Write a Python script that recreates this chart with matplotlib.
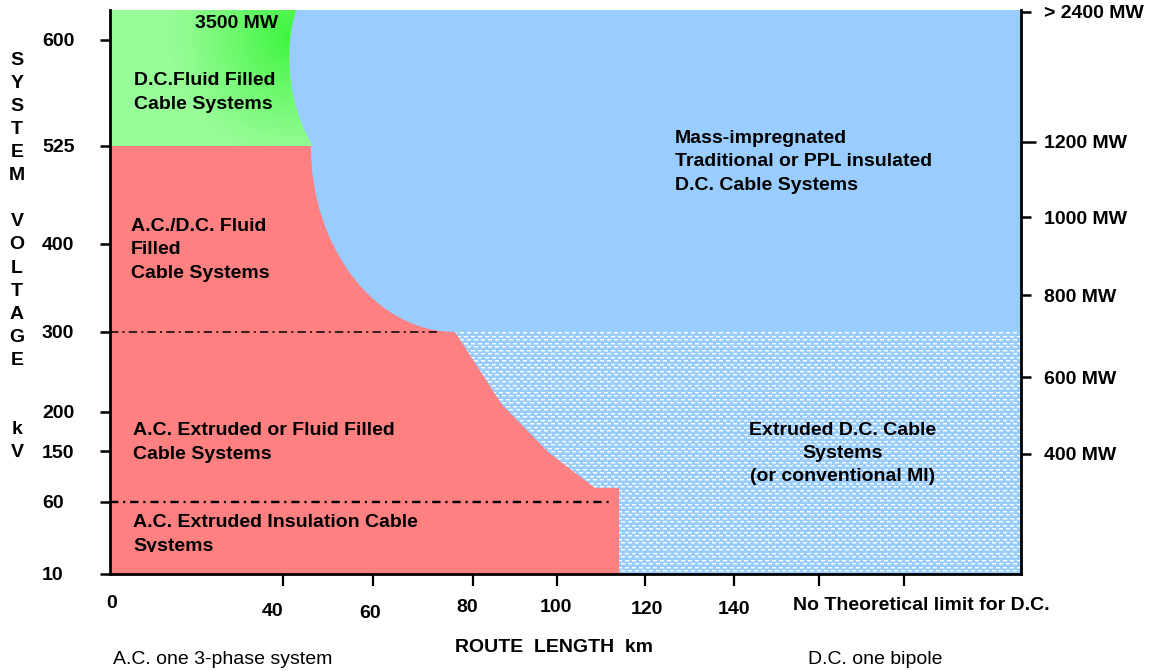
import numpy as np
import matplotlib
matplotlib.use("Agg")
import matplotlib.pyplot as plt
from matplotlib.patches import Rectangle, PathPatch
from matplotlib.path import Path
from matplotlib.transforms import Bbox

plt.rcParams['font.family'] = ['Liberation Sans', 'DejaVu Sans']
plt.rcParams['lines.scale_dashes'] = False

# ---------------- data ----------------
# printed (non-linear) axis scales: value -> relative position along the axis
km_knots = [0, 40, 60, 80, 100, 120, 140, 160, 180, 207]
km_pos = [0, 173, 263, 363, 447, 535, 624, 709, 794, 911]
kv_knots = [10, 60, 150, 200, 300, 400, 525, 600, 621]
kv_pos = [0, 72, 123, 162, 242, 330, 428, 534, 564]
mw_knots = [88, 400, 600, 800, 1000, 1200, 2400, 2420]
mw_pos = [0, 120, 197, 279, 357, 432, 562, 564]

x_ticks = [0, 40, 60, 80, 100, 120, 140, 160, 180]
x_tick_labels = ['0', '40', '60', '80', '100', '120', '140', '', '']
y_ticks = [10, 60, 150, 200, 300, 400, 525, 600]
y_tick_labels = ['10', '60', '150', '200', '300', '400', '525', '600']
mw_ticks = [400, 600, 800, 1000, 1200, 2400]
mw_tick_labels = ['400 MW', '600 MW', '800 MW', '1000 MW', '1200 MW', '> 2400 MW']

# region boundaries (route length km, system voltage kV)
# green / blue border above 525 kV: cubic curve (start, ctrl, ctrl, end)
green_edge_km = [46.6, 40.4, 40.4, 43.0]
green_edge_kv = [525, 557, 600, 621]
# red / blue border between 525 kV and 300 kV: cubic curve
red_arc_km = [46.2, 46.2, 60.5, 76.4]
red_arc_kv = [525, 395, 300, 300]
# red / extruded-D.C. border below 300 kV
red_edge_km = [86.9, 97.9, 108.6, 114.1, 114.1]
red_edge_kv = [209, 148, 85, 85, 10]
ac_dc_limit_kv = 300
ac_dc_limit_km = 72.8
ac_extr_limit_kv = 60
ac_extr_limit_km = 112
extruded_dc_top_kv = 300

# ---------------- styles ----------------
RED = '#FF8080'
BLUE = '#99CCFF'
W, H = 1156, 671
LS = 1.47

def fwd(knots, pos):
    return lambda v: np.interp(v, knots, pos)

def inv(knots, pos):
    return lambda p: np.interp(p, pos, knots)

fig = plt.figure(figsize=(W / 100, H / 100), dpi=100)
ax = fig.add_axes([110 / W, 97 / H, 911 / W, 564 / H])
ax.set_xscale('function', functions=(fwd(km_knots, km_pos), inv(km_knots, km_pos)))
ax.set_yscale('function', functions=(fwd(kv_knots, kv_pos), inv(kv_knots, kv_pos)))
ax.set_facecolor(BLUE)

# patterned (extruded D.C.) area
ny, nx = 564, 911
pat = np.zeros((ny, nx, 3), dtype=float)
base = np.array([153, 204, 255]) / 255
pat[:] = base
yy, xx = np.mgrid[0:ny, 0:nx]
rowA = (yy % 7 == 0) & ((xx % 7) < 4)
rowB = (yy % 7 == 4) & (((xx + 3) % 7) < 4)
rowA2 = (yy % 7 == 1) & ((xx % 7) < 4)
rowB2 = (yy % 7 == 5) & (((xx + 3) % 7) < 4)
pat[rowA2 | rowB2] = base * 0.55 + 0.45
pat[rowA | rowB] = 1.0
im = ax.imshow(pat, extent=(0, 1, 0, 1), transform=ax.transAxes,
               aspect='auto', interpolation='nearest', zorder=1)
clip_rect = Rectangle((km_knots[0], kv_knots[0]), km_knots[-1] - km_knots[0],
                      extruded_dc_top_kv - kv_knots[0], transform=ax.transData,
                      facecolor='none', edgecolor='none')
ax.add_patch(clip_rect)
im.set_clip_path(clip_rect)

# red region (A.C. systems)
red_verts = [(0, kv_knots[0]), (0, 525)] + list(zip(red_arc_km, red_arc_kv)) \
    + list(zip(red_edge_km, red_edge_kv)) + [(0, kv_knots[0])]
red_codes = [Path.MOVETO, Path.LINETO, Path.LINETO, Path.CURVE4, Path.CURVE4, Path.CURVE4] \
    + [Path.LINETO] * len(red_edge_km) + [Path.CLOSEPOLY]
red_patch = PathPatch(Path(red_verts, red_codes), facecolor=RED, edgecolor='none', zorder=2)
ax.add_patch(red_patch)

# green region (D.C. fluid filled) with gradient
green_verts = [(0, 525)] + list(zip(green_edge_km, green_edge_kv)) + [(0, 621), (0, 525)]
green_codes = [Path.MOVETO, Path.LINETO, Path.CURVE4, Path.CURVE4, Path.CURVE4,
               Path.LINETO, Path.CLOSEPOLY]
green_patch = PathPatch(Path(green_verts, green_codes), facecolor='#98FB98',
                        edgecolor='none', zorder=2)
ax.add_patch(green_patch)
light = np.array([152, 252, 152]) / 255
bright = np.array([60, 245, 60]) / 255
cx, cy = 182, 25  # centre of glow (axes pixels from top-left)
d = np.hypot(xx - cx, (yy - cy) * 1.0)
t = np.clip(1 - d / 125, 0, 1) ** 1.2
grad = light[None, None, :] * (1 - t[..., None]) + bright[None, None, :] * t[..., None]
gim = ax.imshow(grad, extent=(0, 1, 0, 1), transform=ax.transAxes,
                aspect='auto', interpolation='bilinear', zorder=2.5)
gim.set_clip_path(green_patch)

# dash-dot limit lines
ax.plot([0, ac_dc_limit_km], [ac_dc_limit_kv, ac_dc_limit_kv], color='black',
        lw=1.1, dashes=(6, 3, 1.5, 3), zorder=3)
ax.plot([0, ac_extr_limit_km], [ac_extr_limit_kv, ac_extr_limit_kv], color='black',
        lw=1.7, dashes=(6, 3.5, 1.5, 3.5), zorder=3)

ax.set_xlim(km_knots[0], km_knots[-1])
ax.set_ylim(kv_knots[0], kv_knots[-1])

# spines
for s in ['top', 'right']:
    ax.spines[s].set_visible(False)
for s in ['left', 'bottom']:
    ax.spines[s].set_linewidth(2.0)
    ax.spines[s].set_zorder(6)

# y ticks (left)
ax.set_yticks(y_ticks)
ax.set_yticklabels(y_tick_labels)
ax.tick_params(axis='y', direction='out', length=7.2, width=1.8, labelsize=14, pad=41.8)
for lab in ax.get_yticklabels():
    lab.set_ha('left')
    lab.set_fontweight('bold')
ax.yaxis.get_major_ticks()[0].tick1line.set_visible(False)
ax.yaxis.set_minor_locator(matplotlib.ticker.NullLocator())

# x ticks (bottom)
ax.set_xticks(x_ticks)
ax.set_xticklabels([''] * len(x_ticks))
ax.tick_params(axis='x', direction='out', length=8.6, width=1.6)
ax.xaxis.get_major_ticks()[0].tick1line.set_visible(False)
ax.xaxis.set_minor_locator(matplotlib.ticker.NullLocator())
x_label_nudge = [(2, -29), (-10, -38), (-3, -39), (-6, -34), (-1, -34), (2, -35), (0, -35), (0, 0), (0, 0)]
for v, lab, (dx, dy) in zip(x_ticks, x_tick_labels, x_label_nudge):
    if lab:
        ax.annotate(lab, xy=(v, 0), xycoords=ax.get_xaxis_transform(),
                    xytext=(dx, dy), textcoords='offset pixels',
                    ha='center', va='center', fontsize=14, fontweight='bold',
                    annotation_clip=False)

# right axis (MW)
tw = ax.twinx()
tw.set_yscale('function', functions=(fwd(mw_knots, mw_pos), inv(mw_knots, mw_pos)))
tw.set_ylim(mw_knots[0], mw_knots[-1])
tw.set_yticks(mw_ticks)
tw.set_yticklabels(mw_tick_labels)
tw.yaxis.set_minor_locator(matplotlib.ticker.NullLocator())
tw.tick_params(axis='y', direction='out', length=7.2, width=1.8, labelsize=14, pad=9.4)
for lab in tw.get_yticklabels():
    lab.set_fontweight('bold')
tw.yaxis.get_major_ticks()[4].tick2line.set_markersize(10.8)
for s in ['top', 'left', 'bottom']:
    tw.spines[s].set_visible(False)
tw.spines['right'].set_linewidth(2.0)

# ---------------- texts ----------------
def fp(x, y):
    return x / W, 1 - y / H

BOLD = dict(fontsize=14, fontweight='bold', linespacing=LS, zorder=10)
fig.text(*fp(237, 24), '3500 MW', ha='center', va='center', **BOLD)
fig.text(*fp(134, 92.5), 'D.C.Fluid Filled\nCable Systems', ha='left', va='center', **BOLD)
fig.text(*fp(131, 250), 'A.C./D.C. Fluid\nFilled\nCable Systems', ha='left', va='center', **BOLD)
fig.text(*fp(133, 442.5), 'A.C. Extruded or Fluid Filled\nCable Systems', ha='left', va='center', **BOLD)
t_ins = fig.text(*fp(133, 534.5), 'A.C. Extruded Insulation Cable\nSystems', ha='left', va='center', **BOLD)
t_ins.set_clip_box(Bbox([[0, H - 552], [W, H]]))
t_ins.set_clip_on(True)
fig.text(*fp(675, 162), 'Mass-impregnated\nTraditional or PPL insulated\nD.C. Cable Systems',
         ha='left', va='center', **BOLD)
fig.text(*fp(843, 453.5), 'Extruded D.C. Cable\nSystems\n(or conventional MI)',
         ha='center', va='center', multialignment='center', **BOLD)
fig.text(*fp(793, 606), 'No Theoretical limit for D.C.', ha='left', va='center',
         fontsize=14, fontweight='bold')
fig.text(*fp(554, 647), 'ROUTE  LENGTH  km', ha='center', va='center',
         fontsize=14, fontweight='bold')
fig.text(*fp(113, 660), 'A.C. one 3-phase system', ha='left', va='center', fontsize=14)
fig.text(*fp(808, 660), 'D.C. one bipole', ha='left', va='center', fontsize=14)
fig.text(*fp(17, 256.5), 'S\nY\nS\nT\nE\nM\n\nV\nO\nL\nT\nA\nG\nE\n\n\nk\nV',
         ha='center', va='center', multialignment='center',
         fontsize=14, fontweight='bold', linespacing=LS)

fig.savefig('out.png', dpi=100)
